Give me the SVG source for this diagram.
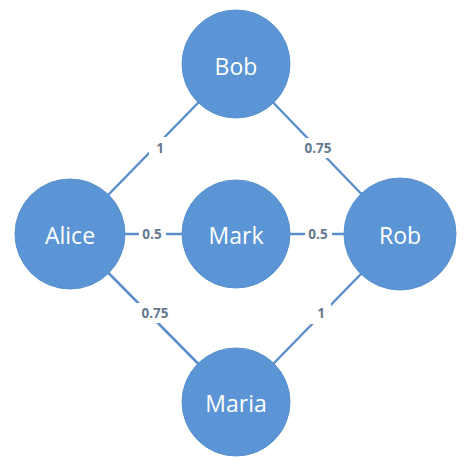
<svg xmlns="http://www.w3.org/2000/svg" width="474" height="467" viewBox="0 0 474 467">
<style>
.edge{stroke:#5b8fcb;stroke-width:2.5;fill:none}
.node circle{fill:#5b95d5;stroke:#5a90cd;stroke-width:1}
.node text{fill:#ffffff;font-family:"Open Sans","Liberation Sans",sans-serif;font-size:23px;text-anchor:middle;dominant-baseline:central}
.lbl rect{fill:#ffffff}
.lbl text{fill:#64788f;font-family:"Open Sans","Liberation Sans",sans-serif;font-size:13.5px;font-weight:bold;text-anchor:middle;dominant-baseline:central}
</style>
<rect width="474" height="467" fill="#ffffff"/>
<g id="connectors">
<line class="edge" x1="70" y1="234" x2="236" y2="64"/>
<line class="edge" x1="236" y1="64" x2="400" y2="234"/>
<line class="edge" x1="70" y1="234" x2="236" y2="234"/>
<line class="edge" x1="236" y1="234" x2="400" y2="234"/>
<line class="edge" x1="70" y1="234" x2="236" y2="402"/>
<line class="edge" x1="400" y1="234" x2="236" y2="402"/>
<g class="lbl"><rect x="149" y="137" width="22" height="22"/><text x="160" y="148">1</text></g>
<g class="lbl"><rect x="299" y="138" width="38" height="20"/><text x="318" y="148">0.75</text></g>
<g class="lbl"><rect x="139" y="225" width="27" height="18"/><text x="152" y="234">0.5</text></g>
<g class="lbl"><rect x="305" y="225" width="27" height="18"/><text x="318" y="234">0.5</text></g>
<g class="lbl"><rect x="136" y="303" width="38" height="20"/><text x="155" y="313">0.75</text></g>
<g class="lbl"><rect x="311" y="302" width="20" height="22"/><text x="321" y="313">1</text></g>
</g>
<g id="node-bob" class="node"><circle cx="236" cy="64" r="54"/><text x="236" y="66">Bob</text></g>
<g id="node-alice" class="node"><circle cx="70" cy="234" r="55"/><text x="70" y="235">Alice</text></g>
<g id="node-mark" class="node"><circle cx="236" cy="234" r="54"/><text x="236" y="235">Mark</text></g>
<g id="node-rob" class="node"><circle cx="400" cy="234" r="56"/><text x="400" y="235">Rob</text></g>
<g id="node-maria" class="node"><circle cx="236" cy="402" r="54"/><text x="236" y="403">Maria</text></g>
</svg>
